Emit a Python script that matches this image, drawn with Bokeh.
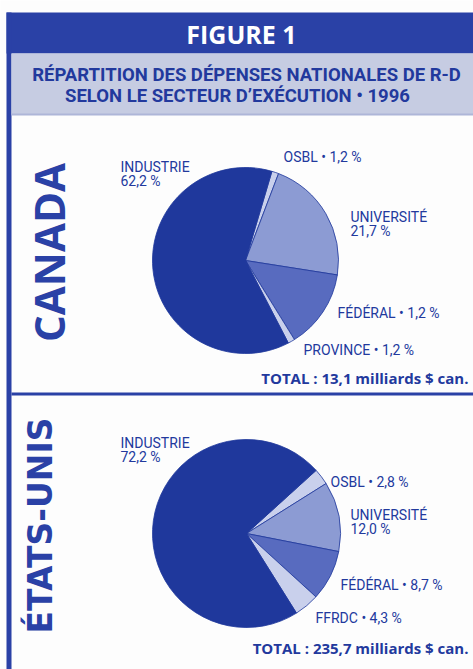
import math
from bokeh.plotting import figure
from bokeh.models import Range1d
from bokeh.core.properties import value
from bokeh.embed import file_html
from bokeh.resources import INLINE

# ---------------- data ----------------
fig_title = "FIGURE 1"
subtitle_lines = ["RÉPARTITION DES DÉPENSES NATIONALES DE R-D",
                  "SELON LE SECTEUR D’EXÉCUTION • 1996"]

country_ca = "CANADA"
sectors_ca = ["OSBL", "UNIVERSITÉ", "FÉDÉRAL", "PROVINCE", "INDUSTRIE"]
values_ca = [1.2, 21.7, 13.7, 1.2, 62.2]          # slice sizes
pct_text_ca = ["1,2 %", "21,7 %", "1,2 %", "1,2 %", "62,2 %"]  # labels as printed
total_ca = "TOTAL : 13,1 milliards $ can."

country_us = "ÉTATS-UNIS"
sectors_us = ["OSBL", "UNIVERSITÉ", "FÉDÉRAL", "FFRDC", "INDUSTRIE"]
values_us = [2.8, 12.0, 8.7, 4.3, 72.2]
pct_text_us = ["2,8 %", "12,0 %", "8,7 %", "4,3 %", "72,2 %"]
total_us = "TOTAL : 235,7 milliards $ can."

# ---------------- style / layout ----------------
W, H = 473, 669
DARK = "#2a41a6"
PIE_DARK = "#1f389c"
TEXT = "#22399d"
LIGHTBOX = "#c6cce2"
slice_colors = {"OSBL": "#c9d0ec", "UNIVERSITÉ": "#8c9bd3", "FÉDÉRAL": "#586bbf",
                "PROVINCE": "#c9d0ec", "FFRDC": "#c9d0ec", "INDUSTRIE": PIE_DARK}
two_line = {"UNIVERSITÉ", "INDUSTRIE"}

LABEL_FONT = "Roboto"
LABEL_SIZE = 14


def Y(y):
    return H - y


def BL(y, size):
    # place a text baseline at pixel row y (compensating the renderer's baseline offset)
    return H - (y - 0.38 * size)


p = figure(width=W, height=H, x_range=Range1d(0, W), y_range=Range1d(0, H),
           output_backend="svg", toolbar_location=None, min_border=0)
p.axis.visible = False
p.grid.visible = False
p.outline_line_color = None
p.background_fill_color = "#fdfdfd"
p.border_fill_color = "#fdfdfd"

# frame
p.quad(left=[6], right=[W + 5], top=[Y(12)], bottom=[Y(53)], fill_color=DARK, line_color=None)
p.quad(left=[6], right=[11], top=[Y(12)], bottom=[Y(H + 5)], fill_color=DARK, line_color=None)
p.quad(left=[11], right=[W + 5], top=[Y(53)], bottom=[Y(114)], fill_color=LIGHTBOX,
       line_color=None)
p.quad(left=[11], right=[W + 5], top=[Y(113)], bottom=[Y(115)], fill_color="#aeb6d8",
       line_color=None)
p.quad(left=[11], right=[W + 5], top=[Y(392)], bottom=[Y(395)], fill_color=DARK, line_color=None)

p.text(x=[241], y=[BL(43, 25)], text=[fig_title], text_align="center",
       text_baseline="alphabetic",
       text_font=value("Open Sans"), text_font_style="bold", text_font_size="25px",
       text_color="white")
p.text(x=[246, 237], y=[BL(82, 18.5), BL(103, 18.5)], text=subtitle_lines, text_align="center",
       text_baseline="alphabetic", text_font=value("Roboto"), text_font_style="bold",
       text_font_size="18.5px", text_color=TEXT)


def draw_pie(cx, cy, r, sectors, values, start_deg):
    tot = float(sum(values))
    a = start_deg
    starts, ends, cols = [], [], []
    for s, v in zip(sectors, values):
        b = a + 360.0 * v / tot
        starts.append(math.radians(90 - a))
        ends.append(math.radians(90 - b))
        cols.append(slice_colors[s])
        a = b
    p.wedge(x=[cx] * len(values), y=[Y(cy)] * len(values), radius=r,
            start_angle=starts, end_angle=ends, direction="clock",
            fill_color=cols, line_color=PIE_DARK, line_width=0.8)


def draw_labels(sectors, pcts, pos):
    for s, t, (x, y) in zip(sectors, pcts, pos):
        if s in two_line:
            lines = [s, t]
            ys = [BL(y, LABEL_SIZE), BL(y + 14, LABEL_SIZE)]
        else:
            lines = [s + " • " + t]
            ys = [BL(y, LABEL_SIZE)]
        p.text(x=[x] * len(lines), y=ys, text=lines, text_baseline="alphabetic",
               text_font=value(LABEL_FONT), text_font_size=f"{LABEL_SIZE}px",
               text_color=TEXT)


# Canada
draw_pie(245, 260, 93, sectors_ca, values_ca, 16.5)
draw_labels(sectors_ca, pct_text_ca,
            [(283, 162), (350, 222), (337, 318), (303, 355), (120, 172)])
p.text(x=[468], y=[BL(383, 15)], text=[total_ca], text_align="right",
       text_baseline="alphabetic",
       text_font=value("Open Sans"), text_font_style="bold", text_font_size="15px",
       text_color=TEXT)
p.text(x=[48], y=[Y(252)], text=[country_ca], angle=math.pi / 2, text_align="center",
       text_baseline="middle", text_font=value("Open Sans"), text_font_style="bold",
       text_font_size="42px", text_color=DARK)

# Etats-Unis
draw_pie(246, 533, 94, sectors_us, values_us, 47.8)
draw_labels(sectors_us, pct_text_us,
            [(330, 487), (350, 520), (340, 590), (315, 623), (120, 448)])
p.text(x=[468], y=[BL(653, 15)], text=[total_us], text_align="right",
       text_baseline="alphabetic",
       text_font=value("Open Sans"), text_font_style="bold", text_font_size="15px",
       text_color=TEXT)
p.text(x=[40], y=[Y(525)], text=[country_us], angle=math.pi / 2, text_align="center",
       text_baseline="middle", text_font=value("DejaVu Sans"), text_font_style="bold",
       text_font_size="33px", text_color=DARK)

open("out.html", "w").write(file_html(p, INLINE))
